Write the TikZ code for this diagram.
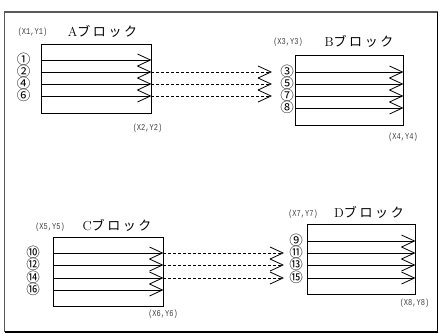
\documentclass[tikz,border=0pt]{standalone}
\usepackage{fontspec}
\usepackage{graphicx}
\usetikzlibrary{arrows.meta}
\newfontfamily\cjk[LetterSpace=20]{Noto Sans CJK JP}
\newfontfamily\circfont{Noto Sans CJK JP}
\newfontfamily\coordfont{Liberation Mono}
\newcommand{\xylab}[1]{\scalebox{0.78}[1]{#1}}
\tikzset{
  blk/.style={draw, line width=0.9pt, rectangle, inner sep=0pt},
  sig/.style={line width=0.8pt, -{Straight Barb[length=13pt,width=12pt,line width=0.8pt]}},
  link/.style={sig, dash pattern=on 3pt off 2pt},
  num/.style={font=\circfont\fontsize{13.5}{13.5}\selectfont, inner sep=0pt, text height=9.8pt, text depth=0pt},
  xy/.style={font=\coordfont\fontsize{9}{9}\selectfont, text=black!75, inner sep=0pt},
  ttl/.style={font=\fontsize{13}{13}\selectfont, inner sep=0pt},
}
\begin{document}
\begin{tikzpicture}[x=1pt,y=-1pt]
\useasboundingbox (0,0) rectangle (446,333);
% outer frame
\draw[black!65, line width=1.2pt] (4.5,332) -- (4.5,12) -- (437.5,12);
\draw[line width=1.2pt] (437.5,12) -- (437.5,332) -- (4.5,332);

% blocks
\node[blk, minimum width=110pt, minimum height=69pt] (A) at (96,78.5) {};
\node[blk, minimum width=108pt, minimum height=70pt] (B) at (349,90) {};
\node[blk, minimum width=110pt, minimum height=69pt] (C) at (108,271.5) {};
\node[blk, minimum width=108pt, minimum height=70pt] (D) at (361,259) {};

% titles and corner coordinates
\node[ttl] (tA) at (102.5,31) {A{\cjk ブロック}};
\node[ttl] (tB) at (359,41) {B{\cjk ブロック}};
\node[ttl] (tC) at (117,225) {C{\cjk ブロック}};
\node[ttl] (tD) at (369,212) {D{\cjk ブロック}};
\node[xy] (p1) at (32.5,32) {\xylab{(X1,Y1)}};
\node[xy] (p2) at (147.5,128) {\xylab{(X2,Y2)}};
\node[xy] (p3) at (288,42) {\xylab{(X3,Y3)}};
\node[xy] (p4) at (403,137) {\xylab{(X4,Y4)}};
\node[xy] (p5) at (50,227) {\xylab{(X5,Y5)}};
\node[xy] (p6) at (163,314) {\xylab{(X6,Y6)}};
\node[xy] (p7) at (303,214) {\xylab{(X7,Y7)}};
\node[xy] (p8) at (414.5,303) {\xylab{(X8,Y8)}};

% circled labels
\node[num] (a1) at (23.5,60) {①};
\node[num] (a2) at (23.5,72) {②};
\node[num] (a4) at (23.5,84) {④};
\node[num] (a6) at (23.5,96) {⑥};
\node[num] (b3) at (287,72) {③};
\node[num] (b5) at (287,84) {⑤};
\node[num] (b7) at (287,96) {⑦};
\node[num] (b8) at (287,108) {⑧};
\node[num] (c10) at (33,253) {⑩};
\node[num] (c12) at (33,265) {⑫};
\node[num] (c14) at (33,278) {⑭};
\node[num] (c16) at (33,290) {⑯};
\node[num] (d9) at (296,241) {⑨};
\node[num] (d11) at (296,253) {⑪};
\node[num] (d13) at (296,265) {⑬};
\node[num] (d15) at (296,278) {⑮};

% signals inside blocks
\foreach \n in {a1,a2,a4,a6} \draw[sig] (A.west |- \n) -- (A.east |- \n);
\foreach \n in {b3,b5,b7,b8} \draw[sig] (B.west |- \n) -- (B.east |- \n);
\foreach \n in {c10,c12,c14,c16} \draw[sig] (C.west |- \n) -- (C.east |- \n);
\foreach \n in {d9,d11,d13,d15} \draw[sig] (D.west |- \n) -- (D.east |- \n);

% dashed links between blocks
\coordinate (iB3) at (272,72);
\coordinate (iB5) at (272,84);
\coordinate (iB7) at (272,96);
\coordinate (iD11) at (284,253);
\coordinate (iD13) at (284,265);
\coordinate (iD15) at (284,278);
\draw[link] (A.east |- a2) -- (iB3);
\draw[link] (A.east |- a4) -- (iB5);
\draw[link] (A.east |- a6) -- (iB7);
\draw[link] (C.east |- c10) -- (iD11);
\draw[link] (C.east |- c12) -- (iD13);
\draw[link] (C.east |- c14) -- (iD15);
\end{tikzpicture}
\end{document}
